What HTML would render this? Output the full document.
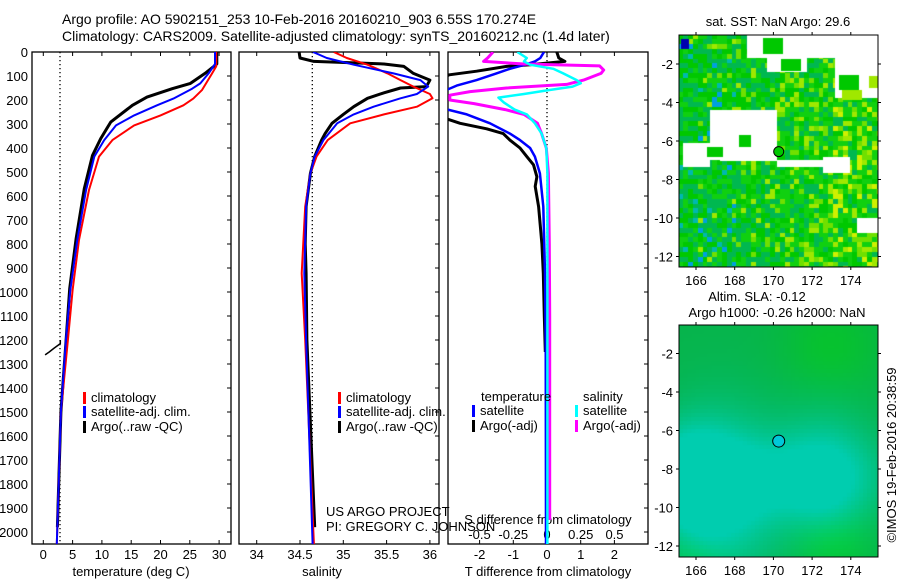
<!DOCTYPE html>
<html><head><meta charset="utf-8"><style>
html,body{margin:0;padding:0;background:#fff;}
#wrap{position:relative;width:900px;height:580px;overflow:hidden;font-family:"Liberation Sans",sans-serif;}
svg{position:absolute;left:0;top:0;}
canvas{position:absolute;}
</style></head><body>
<div id="wrap">
<canvas id="map1" width="199" height="232" style="left:679px;top:35px"></canvas>
<canvas id="map2" width="199" height="232" style="left:679px;top:325px"></canvas>
<svg id="chart" width="900" height="580" xmlns="http://www.w3.org/2000/svg" font-family="Liberation Sans, sans-serif" font-size="13">
<text x="62" y="24" font-size="14">Argo profile: AO 5902151_253 10-Feb-2016 20160210_903 6.55S 170.274E</text>
<text x="62" y="41" font-size="14">Climatology: CARS2009. Satellite-adjusted climatology: synTS_20160212.nc (1.4d later)</text>
<g id="g"></g>
</svg>
</div>
<script>
// ---------- data ----------
const depthTicks=[0,100,200,300,400,500,600,700,800,900,1000,1100,1200,1300,1400,1500,1600,1700,1800,1900,2000];
const tempTicks=[0,5,10,15,20,25,30];
const salTicks=[34,34.5,35,35.5,36];
const dTTicks=[-2,-1,0,1,2];
const dSTicks=[-0.5,-0.25,0,0.25,0.5];
const dSTickLabels=["-0.5","-0.25","0","0.25","0.5"];

const climTDepth=[0,60,89,158,194,222,264,306,367,436,575,783,992,1200,1500,2050];
const climT=[29.5,29.5,28.8,27.1,25.6,23.9,20,15.5,11.8,9.5,7.8,6.1,5.0,4.2,3.0,2.3];
const satTDepth=[0,50,89,131,153,194,222,264,306,367,436,575,783,992,1200,1500,2050];
const satT=[29.3,29.3,28.2,26.8,25.4,22.2,19.4,15.5,12.4,10.4,8.7,7.3,5.8,4.6,3.85,3.0,2.3];
const argoTDepth=[0,50,89,131,153,188,222,292,361,431,569,778,986,1194,1500,1980];
const argoT=[29.6,29.6,27.6,25.1,22,17.7,15.2,11.5,9.8,8.4,7.0,5.6,4.5,3.9,3.0,2.4];
const rawTDepth=[1200,1215,1235,1250,1262];
const rawT=[2.9,2.9,1.8,1.0,0.3];

const climSDepth=[0,25,53,89,117,144,175,193,228,260,297,367,436,506,644,922,1200,2050];
const climS=[34.89,35.04,35.28,35.51,35.66,35.81,36.0,36.03,35.85,35.47,35.08,34.82,34.69,34.62,34.56,34.52,34.56,34.66];
const satSDepth=[0,25,53,89,117,144,175,193,228,260,297,367,436,506,644,922,1200,2050];
const satS=[34.65,34.81,35.12,35.58,35.89,35.98,35.85,35.66,35.35,35.12,34.93,34.77,34.67,34.62,34.57,34.55,34.57,34.645];
const argoSDepth=[0,25,39,50,60,89,117,144,150,170,193,228,260,297,340,367,436,506,644,800,922,1200,1980];
const argoS=[34.49,34.50,34.66,35.47,35.70,35.81,36.0,35.96,35.66,35.47,35.28,35.12,35.0,34.87,34.79,34.75,34.67,34.62,34.57,34.56,34.57,34.58,34.67];

const argoDTDepth=[0,25,39,53,60,80,95,130,270,280,297,320,340,367,400,436,470,520,560,644,800,922,1100,1250];
const argoDT=[0.29,0.35,0.53,-0.5,-1.2,-2.09,-2.9,-3.5,-3.5,-2.95,-2.58,-1.79,-1.3,-1.1,-0.8,-0.6,-0.4,-0.3,-0.35,-0.25,-0.15,-0.11,-0.08,-0.05];
const satDTDepth=[0,25,39,53,70,89,117,140,158,200,240,260,297,340,367,400,436,506,644,922,1200,2050];
const satDT=[-0.09,-0.2,-0.36,-0.65,-1.1,-1.5,-2.09,-2.68,-2.98,-3.5,-2.95,-2.38,-1.69,-1.1,-0.8,-0.5,-0.36,-0.21,-0.11,-0.06,-0.04,-0.03];
const satDSDepth=[0,25,39,53,70,89,117,130,144,160,175,190,210,240,260,297,340,400,506,1000,2050];
const satDS=[-0.22,-0.15,-0.17,-0.126,0.047,0.12,0.22,0.25,0.19,0.0,-0.17,-0.36,-0.32,-0.24,-0.15,-0.09,-0.04,-0.005,0.003,0.003,0.003];
const argoDSDepth=[0,25,39,50,58,75,89,117,135,150,165,180,200,215,240,260,297,340,400,506,800,1100,1950];
const argoDS=[-0.40,-0.44,-0.47,-0.17,0.39,0.42,0.40,0.27,0.146,-0.30,-0.57,-0.72,-0.72,-0.54,-0.31,-0.17,-0.07,-0.04,-0.005,0.01,0.017,0.02,0.02];

const lonTicks=[166,168,170,172,174];
const latTicks=[-2,-4,-6,-8,-10,-12];
const argoLon=170.274, argoLat=-6.55;

// ---------- scales ----------
const yD=d=>52+d*0.24;
const xT=t=>43.3+t*5.86;
const xS=s=>256.7+(s-34)*86.6;
const xDT=v=>547+v*33.7;
const xDS=v=>547+v*135;
const panels=[{x0:32,x1:231},{x0:239,x1:439},{x0:448,x1:648}];
const PT=52,PB=544;

const NS='http://www.w3.org/2000/svg';
const G=document.getElementById('g');
function el(tag,attrs,parent){const e=document.createElementNS(NS,tag);for(const k in attrs)e.setAttribute(k,attrs[k]);(parent||G).appendChild(e);return e;}
function txt(x,y,s,anchor,parent,size){const t=el('text',{x:x,y:y,'text-anchor':anchor||'start'},parent);if(size)t.setAttribute('font-size',size);t.textContent=s;return t;}

const defs=el('defs',{});
panels.forEach((p,i)=>{const c=el('clipPath',{id:'clip'+i},defs);el('rect',{x:p.x0,y:PT,width:p.x1-p.x0,height:PB-PT},c);});

panels.forEach((p,i)=>{
  const f=el('rect',{x:p.x0,y:PT,width:p.x1-p.x0,height:PB-PT,fill:'none',stroke:'#000','stroke-width':1.3});
  
  
  depthTicks.forEach(d=>{el('line',{x1:p.x1-4,x2:p.x1,y1:yD(d),y2:yD(d),stroke:'#000'});});
});
depthTicks.forEach(d=>{const t=txt(28,yD(d)+5,String(d),'end');
  
  });
tempTicks.forEach(v=>{const x=xT(v);el('line',{x1:x,x2:x,y1:PT,y2:PT+4,stroke:'#000'});el('line',{x1:x,x2:x,y1:PB-4,y2:PB,stroke:'#000'});
  const t=txt(x,559,String(v),'middle');});
let at=txt(131,576,'temperature (deg C)','middle');
salTicks.forEach(v=>{const x=xS(v);el('line',{x1:x,x2:x,y1:PT,y2:PT+4,stroke:'#000'});el('line',{x1:x,x2:x,y1:PB-4,y2:PB,stroke:'#000'});
  const t=txt(x,559,String(v),'middle');});
at=txt(322,576,'salinity','middle');
dTTicks.forEach(v=>{const x=xDT(v);el('line',{x1:x,x2:x,y1:PT,y2:PT+4,stroke:'#000'});el('line',{x1:x,x2:x,y1:PB-4,y2:PB,stroke:'#000'});
  const t=txt(x,559,String(v),'middle');});
at=txt(548,576,'T difference from climatology','middle');
dSTicks.forEach((v,i)=>{const t=txt(xDS(v),539,dSTickLabels[i],'middle');});
at=txt(548,524,'S difference from climatology','middle');

[[60,0],[312.3,1],[547,2]].forEach(([x,i])=>{const l=el('line',{x1:x,x2:x,y1:PT,y2:PB,stroke:'#000','stroke-width':1.3,'stroke-dasharray':'1.3,2.7'});
  });

function series(depths,vals,xf,color,w,name,clip){
  let d='';for(let i=0;i<depths.length;i++){d+=(i?'L':'M')+xf(vals[i]).toFixed(1)+','+yD(depths[i]).toFixed(1);}
  const p=el('path',{d:d,fill:'none',stroke:color,'stroke-width':w,'stroke-linejoin':'round','clip-path':'url(#clip'+clip+')'});
  
  
}
series(argoTDepth,argoT,xT,'#000',3,'argo-temperature-line',0);
series(rawTDepth,rawT,xT,'#000',1.5,'argo-raw-temperature-line',0);
series(climTDepth,climT,xT,'#f00',2,'climatology-temperature-line',0);
series(satTDepth,satT,xT,'#00f',2,'satellite-temperature-line',0);
series(argoSDepth,argoS,xS,'#000',3,'argo-salinity-line',1);
series(climSDepth,climS,xS,'#f00',2,'climatology-salinity-line',1);
series(satSDepth,satS,xS,'#00f',2,'satellite-salinity-line',1);
series(argoDTDepth,argoDT,xDT,'#000',3,'argo-t-diff-line',2);
series(satDTDepth,satDT,xDT,'#00f',2.5,'satellite-t-diff-line',2);
series(argoDSDepth,argoDS,xDS,'#f0f',3,'argo-s-diff-line',2);
series(satDSDepth,satDS,xDS,'#0ff',2.5,'satellite-s-diff-line',2);

function legendEntry(x,y,color,label){const g=el('g',{});
  el('rect',{x:x,y:y-10,width:3,height:12,fill:color},g);txt(x+8,y,label,'start',g);}
[[83,'#f00','climatology',402],[83,'#00f','satellite-adj. clim.',416],[83,'#000','Argo(..raw -QC)',431]].forEach(a=>legendEntry(a[0],a[3],a[1],a[2]));
[[338,'#f00','climatology',402],[338,'#00f','satellite-adj. clim.',416],[338,'#000','Argo(..raw -QC)',431]].forEach(a=>legendEntry(a[0],a[3],a[1],a[2]));
txt(481,401,'temperature');txt(583,401,'salinity');
legendEntry(472,415,'#00f','satellite');legendEntry(472,430,'#000','Argo(-adj)');
legendEntry(575,415,'#0ff','satellite');legendEntry(575,430,'#f0f','Argo(-adj)');
let pr=txt(326,516,'US ARGO PROJECT');
pr=txt(326,531,'PI: GREGORY C. JOHNSON');

// ---------- maps ----------
const M={x0:679,x1:878};
const lonX=lon=>696+(lon-166)*19.35;
function mapAxes(top,latRef,name){
  const latY=lat=>latRef+(-2-lat)*19.25;
  const f=el('rect',{x:M.x0,y:top,width:M.x1-M.x0,height:232,fill:'none',stroke:'#000','stroke-width':1});
  
  lonTicks.forEach(v=>{const x=lonX(v);el('line',{x1:x,x2:x,y1:top-3,y2:top,stroke:'#000'});el('line',{x1:x,x2:x,y1:top+232,y2:top+235,stroke:'#000'});
    const t=txt(x,top+250,String(v),'middle');});
  latTicks.forEach(v=>{const y=latY(v);el('line',{x1:M.x1,x2:M.x1+3,y1:y,y2:y,stroke:'#000'});el('line',{x1:M.x0-3,x2:M.x0,y1:y,y2:y,stroke:'#000'});
    const t=txt(673,y+5,String(v),'end');});
  return latY;
}
const latY1=mapAxes(35,64,'sst-map');
const latY2=mapAxes(325,353.5,'sla-map');
let c1=el('circle',{cx:lonX(argoLon),cy:latY1(argoLat),r:5,fill:'#00c800',stroke:'#000'});

let c2=el('circle',{cx:lonX(argoLon),cy:latY2(argoLat),r:6,fill:'#00c8d8',stroke:'#000'});

let mt=txt(778,26,'sat. SST: NaN Argo: 29.6','middle');
mt=txt(757,301,'Altim. SLA: -0.12','middle');
mt=txt(777,317,'Argo h1000: -0.26 h2000: NaN','middle');
mt=txt(0,0,'©IMOS 19-Feb-2016 20:38:59','middle');mt.setAttribute('transform','translate(896,455) rotate(-90)');


// SST texture
(function(){
  const ctx=document.getElementById('map1').getContext('2d');
  const h=(i,j)=>{const s=Math.sin(i*12.9898+j*78.233)*43758.5453;return s-Math.floor(s);};
  const cs=4.83;
  for(let i=0;i<42;i++)for(let j=0;j<49;j++){
    const x=i*cs,y=j*cs;const r=h(i,j),r2=h(i+7,j+3);
    const bias=i/42;
    let col;
    if(r<0.35-bias*0.2) col='#00c800'; else if(r<0.55) col='#10d010';
    else if(r<0.55+bias*0.35) col=(r2<0.5?'#a0e800':'#70e000'); else col='#00b850';
    if(i<12 && r2>0.93) col=r>0.5?'#00b8b0':'#00a0e0';
    if(bias>0.75 && r2>0.9) col='#d0f000';
    ctx.fillStyle=col;ctx.fillRect(Math.floor(x),Math.floor(y),Math.ceil(cs)+1,Math.ceil(cs)+1);
  }
  ctx.fillStyle='#0000b0';ctx.fillRect(2,4,8,10);
  ctx.fillStyle='#fff';
  [[68,0,131,23],[88,23,40,14],[156,23,43,40],[31,75,67,50],[4,108,27,24],[41,112,57,14],[98,125,50,7],[144,122,27,16],[178,183,21,15]].forEach(r=>ctx.fillRect(r[0],r[1],r[2],r[3]));
  ctx.fillStyle='#00c800';ctx.fillRect(84,3,20,16);ctx.fillRect(102,24,20,12);ctx.fillRect(160,40,20,15);ctx.fillRect(60,100,12,12);ctx.fillRect(28,112,16,10);
  ctx.fillStyle='#a0e800';ctx.fillRect(163,55,20,10);ctx.fillRect(190,41,9,12);
})();
// SLA field
(function(){
  const ctx=document.getElementById('map2').getContext('2d');
  const blobs=[[40,170,40,60,1],[145,150,35,45,0.85],[5,150,30,35,1],[100,150,70,30,0.6]];
  for(let x=0;x<199;x+=4)for(let y=0;y<232;y+=4){
    let v=0;blobs.forEach(b=>{v+=b[4]*Math.exp(-((x-b[0])**2)/(2*b[2]*b[2])-((y-b[1])**2)/(2*b[3]*b[3]));});
    v=Math.min(1,v);
    let g=Math.exp(-((x-150)**2+(y-210)**2)/1500)+Math.exp(-((x-20)**2+(y-225)**2)/900)+Math.exp(-((x-150)**2+(y-20)**2)/2500)*0.6;
    g=Math.min(1,g);
    const R=Math.round(6-6*v),Gc=Math.round(180+25*v+24*g*(1-v)),B=Math.round(75+100*v-50*g*(1-v));
    ctx.fillStyle='rgb('+R+','+Gc+','+B+')';ctx.fillRect(x,y,4,4);
  }
})();
</script>
</body></html>
